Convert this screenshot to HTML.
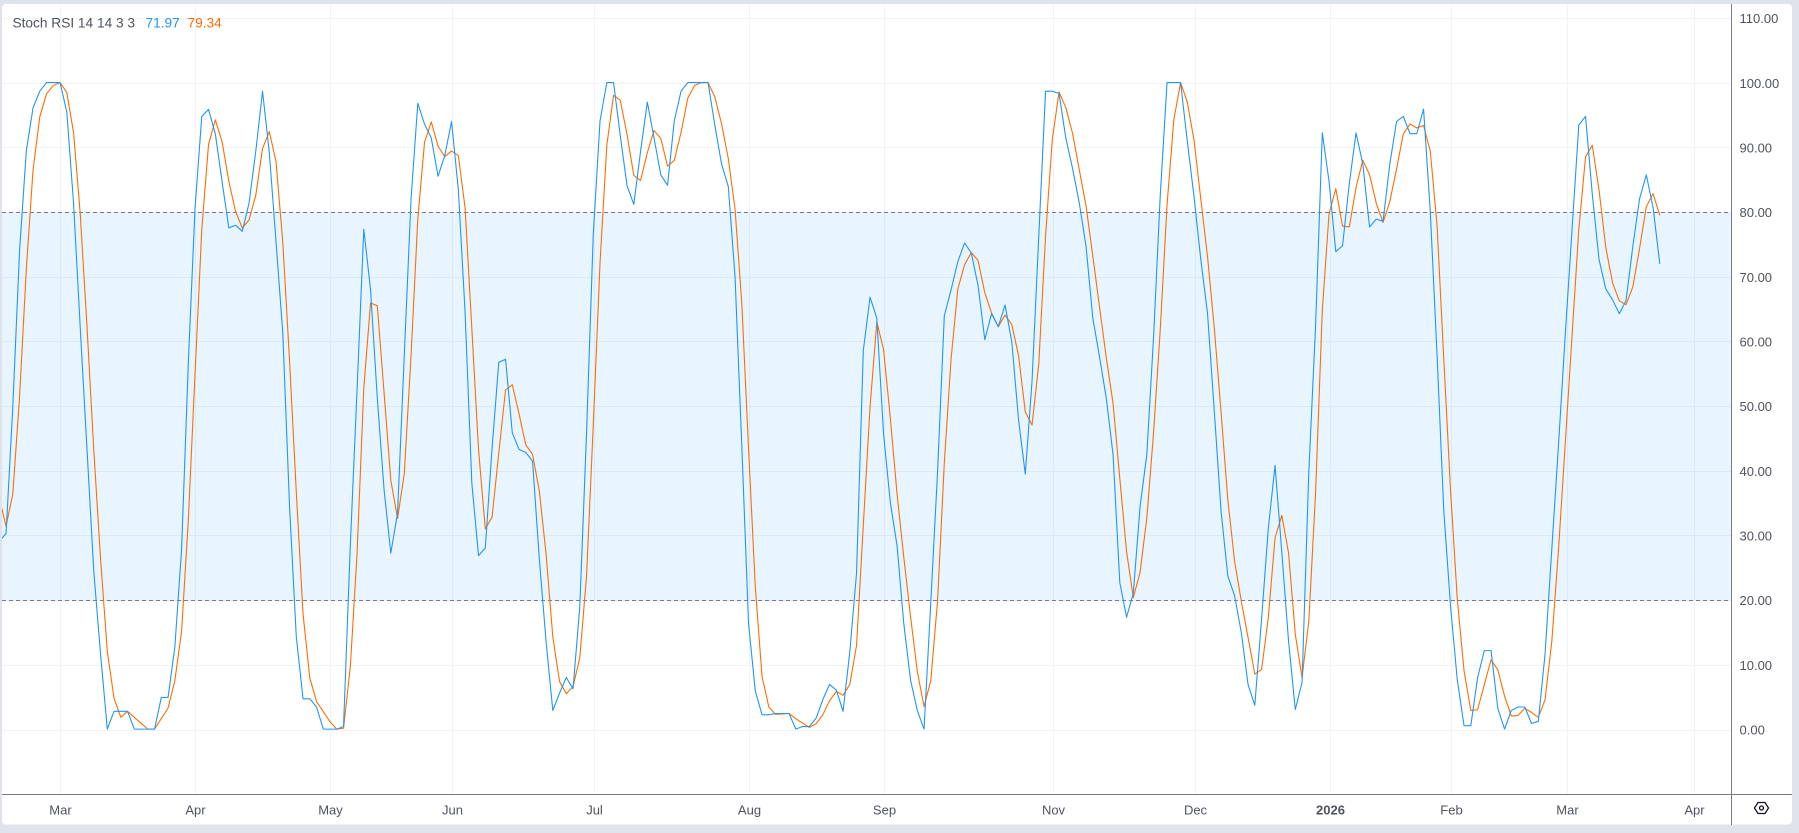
<!DOCTYPE html>
<html>
<head>
<meta charset="utf-8">
<style>
  html, body { margin: 0; padding: 0; background: #e0e3eb; }
  body { width: 1799px; height: 833px; overflow: hidden; }
  svg { display: block; }
  text { font-family: "Liberation Sans", Arial, sans-serif; }
</style>
</head>
<body>
<svg width="1799" height="833" viewBox="0 0 1799 833" xmlns="http://www.w3.org/2000/svg">
  <defs>
    <clipPath id="plotclip">
      <rect x="2" y="4" width="1729.5" height="790"/>
    </clipPath>
  </defs>
  <rect x="0" y="0" width="1799" height="833" fill="#e0e3eb"/>
  <rect x="2" y="4" width="1790" height="820.5" rx="4" ry="4" fill="#ffffff"/>

  <!-- vertical grid -->
  <g stroke="#f0f3fa" stroke-width="1">
    <line x1="60.5" y1="4" x2="60.5" y2="794"/>
    <line x1="195.5" y1="4" x2="195.5" y2="794"/>
    <line x1="330.5" y1="4" x2="330.5" y2="794"/>
    <line x1="452.5" y1="4" x2="452.5" y2="794"/>
    <line x1="594.5" y1="4" x2="594.5" y2="794"/>
    <line x1="749.5" y1="4" x2="749.5" y2="794"/>
    <line x1="884.5" y1="4" x2="884.5" y2="794"/>
    <line x1="1053.5" y1="4" x2="1053.5" y2="794"/>
    <line x1="1195.5" y1="4" x2="1195.5" y2="794"/>
    <line x1="1330.5" y1="4" x2="1330.5" y2="794"/>
    <line x1="1451.5" y1="4" x2="1451.5" y2="794"/>
    <line x1="1567.5" y1="4" x2="1567.5" y2="794"/>
    <line x1="1694.5" y1="4" x2="1694.5" y2="794"/>
  </g>
  <!-- horizontal grid -->
  <g stroke="#f0f3fa" stroke-width="1">
    <line x1="2" y1="18.5" x2="1731" y2="18.5"/>
    <line x1="2" y1="83.5" x2="1731" y2="83.5"/>
    <line x1="2" y1="147.5" x2="1731" y2="147.5"/>
    <line x1="2" y1="212.5" x2="1731" y2="212.5"/>
    <line x1="2" y1="277.5" x2="1731" y2="277.5"/>
    <line x1="2" y1="341.5" x2="1731" y2="341.5"/>
    <line x1="2" y1="406.5" x2="1731" y2="406.5"/>
    <line x1="2" y1="471.5" x2="1731" y2="471.5"/>
    <line x1="2" y1="535.5" x2="1731" y2="535.5"/>
    <line x1="2" y1="600.5" x2="1731" y2="600.5"/>
    <line x1="2" y1="665.5" x2="1731" y2="665.5"/>
    <line x1="2" y1="730.5" x2="1731" y2="730.5"/>
  </g>

  <!-- band fill -->
  <rect x="2" y="212.5" width="1729.5" height="388" fill="rgba(33,150,243,0.1)"/>

  <!-- dashed levels -->
  <g stroke="#787b86" stroke-width="1" stroke-dasharray="4 3">
    <line x1="2" y1="212.5" x2="1731" y2="212.5"/>
    <line x1="2" y1="600.5" x2="1731" y2="600.5"/>
  </g>

  <!-- series -->
  <g clip-path="url(#plotclip)">
    <polyline id="orange" fill="none" stroke="#ff6d00" stroke-width="1.1" stroke-linejoin="round"
      vector-effect="non-scaling-stroke" transform="matrix(6.75 0 0 0.43365 -0.7 60)" points=""/>
    <polyline id="blue" fill="none" stroke="#2196f3" stroke-width="1.1" stroke-linejoin="round"
      vector-effect="non-scaling-stroke" transform="matrix(6.75 0 0 0.43365 -0.7 60)"
      points="0,1110 1,1092 2,800 3,440 4,210 5,110 6,72 7,52 8,52 9,52 10,120 11,330 12,620 13,900 14,1180 15,1370 16,1543 17,1502 18,1502 19,1502 20,1543 21,1543 22,1543 23,1543 24,1470 25,1470 26,1355 27,1130 28,700 29,340 30,130 31,114 32,170 33,280 34,387 35,381 36,395 37,330 38,210 39,72 40,213 41,420 42,630 43,1030 44,1330 45,1473 46,1473 47,1492 48,1543 49,1543 50,1543 51,1537 52,1120 53,760 54,390 55,530 56,780 57,990 58,1137 59,1045 60,680 61,320 62,100 63,148 64,180 65,268 66,220 67,142 68,298 69,580 70,975 71,1143 72,1125 73,895 74,697 75,690 76,860 77,898 78,905 79,925 80,1150 81,1340 82,1500 83,1460 84,1424 85,1450 86,1260 87,860 88,400 89,140 90,52 91,52 92,175 93,290 94,333 95,211 96,97 97,180 98,265 99,289 100,140 101,72 102,52 103,52 104,52 105,52 106,150 107,240 108,292 109,500 110,890 111,1300 112,1455 113,1510 114,1510 115,1507 116,1507 117,1507 118,1543 119,1537 120,1537 121,1518 122,1475 123,1440 124,1453 125,1502 126,1365 127,1183 128,670 129,547 130,595 131,862 132,1020 133,1120 134,1300 135,1430 136,1500 137,1543 138,1250 139,950 140,590 141,530 142,465 143,422 144,445 145,520 146,645 147,585 148,615 149,565 150,650 151,830 152,955 153,740 154,405 155,72 156,72 157,77 158,180 159,250 160,330 161,430 162,595 163,685 164,780 165,910 166,1205 167,1285 168,1230 169,1030 170,910 171,640 172,310 173,52 174,52 175,52 176,187 177,316 178,460 179,585 180,810 181,1040 182,1190 183,1235 184,1320 185,1440 186,1488 187,1290 188,1080 189,935 190,1135 191,1340 192,1498 193,1435 194,950 195,615 196,168 197,280 198,442 199,428 200,285 201,168 202,240 203,385 204,367 205,372 206,240 207,142 208,130 209,170 210,170 211,113 212,350 213,680 214,1040 215,1260 216,1430 217,1535 218,1535 219,1425 220,1362 221,1362 222,1495 223,1543 224,1500 225,1492 226,1492 227,1530 228,1525 229,1370 230,1128 231,886 232,632 233,390 234,150 235,130 236,310 237,460 238,528 239,553 240,585 241,555 242,430 243,320 244,265 245,340 246,470"/>
  </g>

  <!-- axes separators -->
  <line x1="1731.5" y1="4" x2="1731.5" y2="825" stroke="#787b86" stroke-width="1"/>
  <line x1="2" y1="794.5" x2="1792" y2="794.5" stroke="#787b86" stroke-width="1"/>

  <!-- price labels -->
  <g font-size="13" fill="#50535e">
    <text x="1739.5" y="23">110.00</text>
    <text x="1739.5" y="88">100.00</text>
    <text x="1739.5" y="152.5">90.00</text>
    <text x="1739.5" y="217">80.00</text>
    <text x="1739.5" y="282">70.00</text>
    <text x="1739.5" y="346.5">60.00</text>
    <text x="1739.5" y="411">50.00</text>
    <text x="1739.5" y="476">40.00</text>
    <text x="1739.5" y="540.5">30.00</text>
    <text x="1739.5" y="605">20.00</text>
    <text x="1739.5" y="670">10.00</text>
    <text x="1739.5" y="734.5">0.00</text>
  </g>

  <!-- time labels -->
  <g font-size="13" fill="#50535e" text-anchor="middle">
    <text x="60.5" y="814.5">Mar</text>
    <text x="195.5" y="814.5">Apr</text>
    <text x="330.5" y="814.5">May</text>
    <text x="452.5" y="814.5">Jun</text>
    <text x="594.5" y="814.5">Jul</text>
    <text x="749.5" y="814.5">Aug</text>
    <text x="884.5" y="814.5">Sep</text>
    <text x="1053.5" y="814.5">Nov</text>
    <text x="1195.5" y="814.5">Dec</text>
    <text x="1330.5" y="814.5" font-weight="bold">2026</text>
    <text x="1451.5" y="814.5">Feb</text>
    <text x="1567.5" y="814.5">Mar</text>
    <text x="1694.5" y="814.5">Apr</text>
  </g>

  <!-- settings icon -->
  <g transform="translate(1761.5,808)" fill="none" stroke="#131722" stroke-width="1.3">
    <polygon points="-7,0 -3.5,-5.5 3.5,-5.5 7,0 3.5,5.5 -3.5,5.5"/>
    <circle cx="0" cy="0" r="2"/>
  </g>

  <!-- legend -->
  <g font-size="13.7">
    <text x="12.5" y="27.5" fill="#50535e">Stoch RSI 14 14 3 3</text>
    <text x="145.5" y="27.5" fill="#2196f3">71.97</text>
    <text x="187.5" y="27.5" fill="#ff6d00">79.34</text>
  </g>
</svg>
<script>
(function(){
  var b = document.getElementById('blue');
  var pts = b.getAttribute('points').trim().split(/\s+/).map(function(p){ return parseFloat(p.split(',')[1]); });
  var o = [];
  for (var i = 0; i < pts.length; i++) {
    var v;
    if (i === 0) v = 1010;
    else if (i === 1) v = 1075;
    else v = (pts[i-2] + pts[i-1] + pts[i]) / 3;
    o.push(i + ',' + v.toFixed(1));
  }
  document.getElementById('orange').setAttribute('points', o.join(' '));
})();
</script>
</body>
</html>
